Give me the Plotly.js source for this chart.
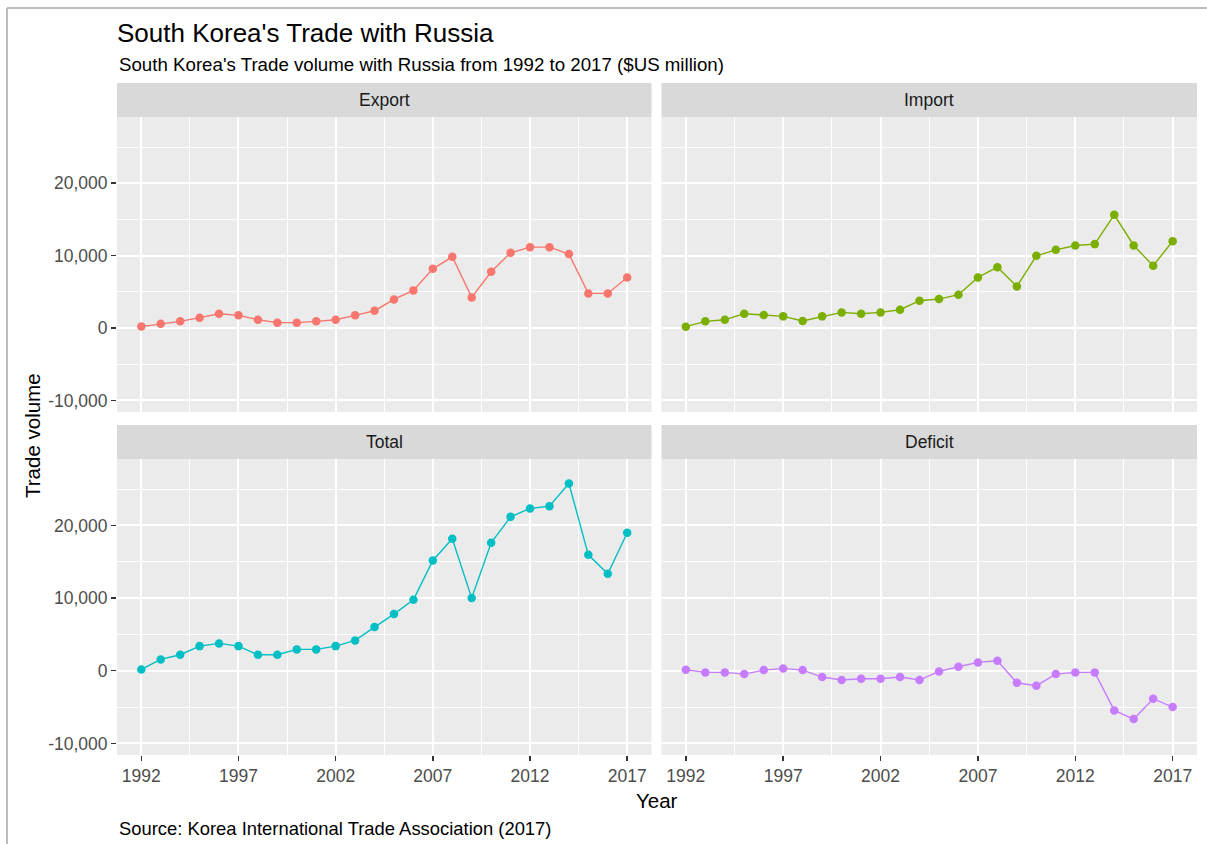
<!DOCTYPE html>
<html>
<head>
<meta charset="utf-8">
<script src="https://cdn.plot.ly/plotly-3.0.1.min.js"></script>
<style>
  html, body { margin: 0; padding: 0; background: #ffffff; }
  #chart { width: 1207px; height: 844px; }
</style>
</head>
<body>
<div id="chart"></div>
<script>
// ---- Data ($US million) ----
const years = [1992, 1993, 1994, 1995, 1996, 1997, 1998, 1999, 2000, 2001, 2002, 2003, 2004,
               2005, 2006, 2007, 2008, 2009, 2010, 2011, 2012, 2013, 2014, 2015, 2016, 2017];

const exportVals = [200, 600, 920, 1430, 1980, 1750, 1150, 740, 740, 920, 1150, 1750, 2390,
                    3950, 5200, 8180, 9840, 4230, 7770, 10390, 11170, 11170, 10210, 4780, 4780, 6990];

const importVals = [190, 920, 1150, 1980, 1790, 1610, 970, 1610, 2160, 1980, 2160, 2530, 3770,
                    4000, 4600, 6990, 8410, 5750, 9980, 10800, 11400, 11590, 15630, 11400, 8600, 12000];

const totalVals = [180, 1560, 2200, 3390, 3760, 3390, 2200, 2200, 2940, 2940, 3390, 4170, 6010,
                   7800, 9770, 15180, 18170, 10000, 17610, 21190, 22340, 22660, 25780, 15960, 13350, 18990];

const deficitVals = [140, -230, -230, -460, 90, 320, 90, -870, -1280, -1100, -1100, -870, -1280,
                     -90, 550, 1150, 1380, -1650, -2060, -460, -230, -230, -5460, -6650, -3850, -5000];

const panelNames = ["Export", "Import", "Total", "Deficit"];
const panelColors = ["#F8766D", "#7CAE00", "#00BFC4", "#C77CFF"];

const yTickVals = [-10000, 0, 10000, 20000];
const yTickText = ["-10,000", "0", "10,000", "20,000"];
const xTickVals = [1992, 1997, 2002, 2007, 2012, 2017];
const xTickText = ["1992", "1997", "2002", "2007", "2012", "2017"];

const titleText = "South Korea's Trade with Russia";
const subtitleText = "South Korea's Trade volume with Russia from 1992 to 2017 ($US million)";
const captionText = "Source: Korea International Trade Association (2017)";
const xTitle = "Year";
const yTitle = "Trade volume";

// ---- Layout geometry (pixels) ----
const W = 1207, H = 844;
const mL = 117, mR = 10, mT = 117, mB = 89;
const plotW = W - mL - mR;   // 1080
const plotH = H - mT - mB;   // 638
const px2x = p => (p - mL) / plotW;
const py2y = p => (H - mB - p) / plotH;

const leftDom = [0, px2x(651.5)];
const rightDom = [px2x(661.5), 1];
const topDom = [py2y(412), 1];
const botDom = [0, py2y(459)];
const stripH = 34;

const FONT = "Liberation Sans, Arial, sans-serif";
const xRange = [1990.75, 2018.25];
const yRange = [-11600, 29150];

const seriesList = [exportVals, importVals, totalVals, deficitVals];
const axisIds = [["x", "y"], ["x2", "y2"], ["x3", "y3"], ["x4", "y4"]];

const traces = seriesList.map((vals, i) => ({
  type: "scatter",
  mode: "lines+markers",
  x: years,
  y: vals,
  xaxis: axisIds[i][0],
  yaxis: axisIds[i][1],
  name: panelNames[i],
  line: { color: panelColors[i], width: 1.4 },
  marker: { color: panelColors[i], size: 8.5 },
  showlegend: false,
  hoverinfo: "x+y"
}));

function xAxis(domain, anchor, showLabels) {
  return {
    domain: domain, anchor: anchor, range: xRange,
    tickmode: "array", tickvals: xTickVals, ticktext: xTickText,
    showticklabels: showLabels,
    ticks: showLabels ? "outside" : "", ticklen: 5, tickwidth: 1.5, tickcolor: "#333333",
    tickfont: { family: FONT, size: 17.5, color: "#4D4D4D" },
    showgrid: true, gridcolor: "#FFFFFF", gridwidth: 2,
    minor: { tickmode: "linear", tick0: 1992, dtick: 2.5, showgrid: true, gridcolor: "#FFFFFF", gridwidth: 1, ticks: "" },
    zeroline: false, showline: false, fixedrange: true
  };
}
function yAxis(domain, anchor, showLabels) {
  return {
    domain: domain, anchor: anchor, range: yRange,
    tickmode: "array", tickvals: yTickVals, ticktext: yTickText,
    showticklabels: showLabels,
    ticks: showLabels ? "outside" : "", ticklen: 5, tickwidth: 1.5, tickcolor: "#333333",
    tickfont: { family: FONT, size: 17.5, color: "#4D4D4D" },
    showgrid: true, gridcolor: "#FFFFFF", gridwidth: 2,
    minor: { tickmode: "linear", tick0: 0, dtick: 5000, showgrid: true, gridcolor: "#FFFFFF", gridwidth: 1, ticks: "" },
    zeroline: false, showline: false, fixedrange: true
  };
}

const shapes = [];
const annotations = [];
const domains = [[leftDom, topDom], [rightDom, topDom], [leftDom, botDom], [rightDom, botDom]];
domains.forEach((d, i) => {
  const xd = d[0], yd = d[1];
  const y0 = yd[1];
  const y1 = yd[1] + stripH / plotH;
  shapes.push({
    type: "rect", xref: "paper", yref: "paper",
    x0: xd[0], x1: xd[1], y0: y0, y1: y1,
    fillcolor: "#D9D9D9", line: { width: 0 }, layer: "below"
  });
  annotations.push({
    xref: "paper", yref: "paper",
    x: (xd[0] + xd[1]) / 2, y: (y0 + y1) / 2,
    xanchor: "center", yanchor: "middle",
    text: panelNames[i], showarrow: false,
    font: { family: FONT, size: 17.5, color: "#1A1A1A" }
  });
});

// outer frame of the picture (top and left edges)
shapes.push({ type: "line", xref: "paper", yref: "paper",
  x0: px2x(7), x1: px2x(1207), y0: py2y(8), y1: py2y(8),
  line: { color: "#BDBDBD", width: 2 } });
shapes.push({ type: "line", xref: "paper", yref: "paper",
  x0: px2x(7), x1: px2x(7), y0: py2y(8), y1: py2y(844),
  line: { color: "#BDBDBD", width: 2 } });

annotations.push({
  xref: "paper", yref: "paper", x: 0, y: py2y(64.5),
  xanchor: "left", yanchor: "middle", showarrow: false,
  text: subtitleText, font: { family: FONT, size: 18.7, color: "#000000" }
});
annotations.push({
  xref: "paper", yref: "paper", x: 0, y: py2y(828),
  xanchor: "left", yanchor: "middle", showarrow: false,
  text: captionText, font: { family: FONT, size: 18.4, color: "#000000" }
});
annotations.push({
  xref: "paper", yref: "paper", x: 0.5, y: py2y(800),
  xanchor: "center", yanchor: "middle", showarrow: false,
  text: xTitle, font: { family: FONT, size: 20.5, color: "#000000" }
});
annotations.push({
  xref: "paper", yref: "paper", x: px2x(32), y: py2y(436),
  xanchor: "center", yanchor: "middle", showarrow: false, textangle: -90,
  text: yTitle, font: { family: FONT, size: 20.5, color: "#000000" }
});

const layout = {
  width: W, height: H,
  margin: { l: mL, r: mR, t: mT, b: mB, pad: 0 },
  paper_bgcolor: "#FFFFFF",
  plot_bgcolor: "#EBEBEB",
  title: {
    text: titleText,
    font: { family: FONT, size: 26, color: "#000000" },
    xref: "paper", x: 0, xanchor: "left",
    yref: "container", y: 1 - 33 / H, yanchor: "middle"
  },
  xaxis: xAxis(leftDom, "y", false),
  yaxis: yAxis(topDom, "x", true),
  xaxis2: xAxis(rightDom, "y2", false),
  yaxis2: yAxis(topDom, "x2", false),
  xaxis3: xAxis(leftDom, "y3", true),
  yaxis3: yAxis(botDom, "x3", true),
  xaxis4: xAxis(rightDom, "y4", true),
  yaxis4: yAxis(botDom, "x4", false),
  shapes: shapes,
  annotations: annotations,
  showlegend: false
};

Plotly.newPlot("chart", traces, layout, { displayModeBar: false, staticPlot: true });
</script>
</body>
</html>
